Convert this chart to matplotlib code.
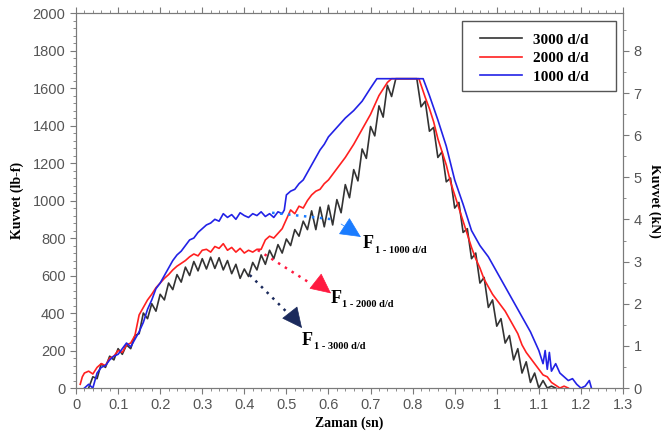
import numpy as np
import matplotlib
matplotlib.use('Agg')
import matplotlib.pyplot as plt
from matplotlib.patches import Rectangle
from matplotlib.ticker import MultipleLocator, FuncFormatter

# --- data (time in s, force in lb-f) ---
# 3000 d/d, sampled every 0.01 s starting at 0.03 s
black_t0, black_dt = 0.03, 0.01
black_f = [0, 60, 50, 130, 110, 170, 150, 210, 180, 230, 210, 280,          # 0.03-0.14
           290, 400, 370, 450, 410, 500, 470, 560, 525, 605, 565, 645,      # 0.15-0.26
           600, 675, 625, 690, 635, 698, 638, 695, 630, 680, 610, 660,      # 0.27-0.38
           585, 635, 595, 670, 630, 710, 660, 735, 690, 765, 720, 795,      # 0.39-0.50
           760, 845, 810, 890, 845, 945, 845, 965, 860, 975, 870, 1005,     # 0.51-0.62
           935, 1085, 1015, 1165, 1105, 1275, 1225, 1395, 1345, 1505, 1445, 1615,  # 0.63-0.74
           1555, 1650, 1650, 1650, 1650, 1650, 1650, 1500, 1530, 1370, 1390, 1230,  # 0.75-0.86
           1260, 1100, 1120, 960, 990, 830, 850, 690, 720, 560, 590, 430,   # 0.87-0.98
           470, 330, 370, 240, 280, 150, 210, 80, 140, 30, 80, 0,           # 0.99-1.10
           40, 0, 10, 0]                                                    # 1.11-1.14
black_t = np.round(black_t0 + black_dt * np.arange(len(black_f)), 3)

# 2000 d/d
red_t = [0.01, 0.015, 0.02, 0.03, 0.04, 0.05, 0.06, 0.07, 0.08, 0.09, 0.10, 0.11, 0.12,
         0.13, 0.14, 0.15, 0.16, 0.17, 0.18, 0.19, 0.20, 0.21, 0.22, 0.23, 0.24, 0.25,
         0.26, 0.27, 0.28, 0.29, 0.30, 0.31, 0.32, 0.33, 0.34, 0.35, 0.36, 0.37, 0.38,
         0.39, 0.40, 0.41, 0.42, 0.43, 0.44, 0.45, 0.46, 0.47, 0.48, 0.49, 0.50, 0.51,
         0.52, 0.53, 0.54, 0.55, 0.56, 0.57, 0.58, 0.59, 0.60, 0.62, 0.64, 0.66, 0.68,
         0.70, 0.72, 0.74, 0.75, 0.815, 0.83, 0.84, 0.85, 0.86, 0.87, 0.88, 0.89, 0.90,
         0.91, 0.92, 0.93, 0.94, 0.95, 0.96, 0.97, 0.98, 0.99, 1.00, 1.01, 1.02, 1.03,
         1.04, 1.05, 1.06, 1.07, 1.08, 1.09, 1.10, 1.11, 1.12, 1.13, 1.14, 1.15, 1.16, 1.17]
red_f = [20, 60, 80, 90, 75, 110, 130, 120, 160, 170, 200, 190, 230,
         240, 280, 390, 430, 470, 500, 535, 560, 585, 605, 630, 650, 665,
         680, 700, 715, 705, 735, 740, 725, 755, 745, 770, 735, 750, 725,
         745, 720, 735, 725, 740, 740, 790, 810, 800, 825, 850, 900, 950,
         930, 970, 960, 1000, 1030, 1050, 1060, 1090, 1110, 1170, 1230, 1300, 1380,
         1460, 1560, 1630, 1650, 1650, 1550, 1490, 1420, 1330, 1260, 1190, 1100, 1030,
         960, 890, 820, 750, 690, 640, 580, 540, 500, 470, 440, 410, 370,
         330, 290, 230, 190, 160, 130, 100, 70, 60, 30, 15, 0, 10, 0]

# 1000 d/d
blue_t = [0.02, 0.03, 0.04, 0.05, 0.06, 0.07, 0.08, 0.09, 0.10, 0.11, 0.12, 0.13,
          0.14, 0.15, 0.16, 0.17, 0.18, 0.19, 0.20, 0.21, 0.22, 0.23, 0.24, 0.25,
          0.26, 0.27, 0.28, 0.29, 0.30, 0.31, 0.32, 0.33, 0.34, 0.35, 0.36, 0.37,
          0.38, 0.39, 0.40, 0.41, 0.42, 0.43, 0.44, 0.45, 0.46, 0.47, 0.48, 0.49,
          0.495, 0.50, 0.51, 0.52, 0.53, 0.54, 0.55, 0.56, 0.57, 0.58, 0.59, 0.60,
          0.62, 0.64, 0.66, 0.68, 0.70, 0.715, 0.825, 0.84, 0.86, 0.88, 0.90, 0.92,
          0.94, 0.96, 0.98, 1.00, 1.02, 1.04, 1.06, 1.08, 1.10, 1.11, 1.115, 1.12,
          1.125, 1.13, 1.14, 1.15, 1.16, 1.17, 1.18, 1.19, 1.20, 1.21, 1.22, 1.225]
blue_f = [0, 20, 0, 80, 110, 120, 150, 170, 180, 210, 240, 220,
          260, 300, 350, 420, 470, 530, 560, 600, 640, 680, 710, 730,
          760, 790, 800, 830, 850, 870, 880, 900, 890, 930, 910, 925,
          900, 935, 920, 910, 930, 920, 940, 915, 930, 910, 940, 930,
          950, 1030, 1050, 1060, 1090, 1110, 1150, 1190, 1230, 1270, 1300, 1340,
          1390, 1440, 1480, 1530, 1600, 1650, 1650, 1560, 1430, 1290, 1110, 980,
          840, 760, 700, 620, 540, 460, 380, 300, 200, 130, 200, 100,
          190, 90, 130, 80, 60, 40, 50, 20, 0, 10, 40, 0]

series_labels = ['3000 d/d', '2000 d/d', '1000 d/d']
series_colors = ['#333333', '#ff2020', '#2222e6']

# dotted arrows: shaft start, shaft end, head base, head tip
arrow_start = [(0.413, 603), (0.432, 736), (0.466, 935)]
arrow_shaft_end = [(0.513, 378), (0.556, 560), (0.610, 900)]
arrow_head_base = [(0.516, 380), (0.572, 565), (0.630, 875)]
arrow_tip = [(0.537, 320), (0.606, 505), (0.677, 806)]
arrow_colors = ['#1b2a5c', '#ff1a40', '#1a7cff']
f_sub = ['1 - 3000 d/d', '1 - 2000 d/d', '1 - 1000 d/d']
f_label_pos = [(0.537, 256), (0.604, 480), (0.682, 773)]

LB_PER_KN = 224.809

fig = plt.figure(figsize=(6.61, 4.36), dpi=100)
ax = fig.add_axes([0.115, 0.110, 0.8275, 0.860])

for t, f, lab, c in zip([black_t, red_t, blue_t], [black_f, red_f, blue_f],
                        series_labels, series_colors):
    ax.plot(t, f, color=c, lw=1.2, label=lab)

for p0, p1, pb, pt, c in zip(arrow_start, arrow_shaft_end, arrow_head_base, arrow_tip, arrow_colors):
    ax.plot([p0[0], p1[0]], [p0[1], p1[1]], ls=(0, (1, 2.2)), color=c, lw=1.8)
    ax.annotate('', xy=pt, xytext=pb,
                arrowprops=dict(arrowstyle='-|>,head_length=1.35,head_width=0.65',
                                color=c, lw=0.5, shrinkA=0, shrinkB=0))

serif_bold = dict(family='Liberation Serif', weight='bold')
for sub, (x, y) in zip(f_sub, f_label_pos):
    ax.text(x, y, 'F', fontsize=13, va='center', ha='left', color='black', **serif_bold)
    ax.annotate(sub, xy=(x, y), xytext=(8.5, -5), textcoords='offset points',
                fontsize=7.5, va='center', ha='left', color='black', **serif_bold)

ax.set_xlim(0, 1.3)
ax.set_ylim(0, 2000)
ax.xaxis.set_major_locator(MultipleLocator(0.1))
ax.xaxis.set_minor_locator(MultipleLocator(0.02))
ax.yaxis.set_major_locator(MultipleLocator(200))
ax.yaxis.set_minor_locator(MultipleLocator(40))
ax.xaxis.set_major_formatter(FuncFormatter(lambda v, p: '%g' % round(v, 2)))

grey = '#7a7a7a'
for lbl in ax.get_xticklabels() + ax.get_yticklabels():
    lbl.set_fontfamily('Liberation Sans')
ax.tick_params(which='both', direction='out', colors=grey, labelcolor='#555555',
               labelsize=10.5, top=True)
ax.tick_params(which='major', length=4)
ax.tick_params(which='minor', length=2)
for s in ax.spines.values():
    s.set_color(grey)

ax2 = ax.twinx()
ax2.set_ylim(0, 2000 / LB_PER_KN)
ax2.yaxis.set_major_locator(MultipleLocator(1))
ax2.yaxis.set_minor_locator(MultipleLocator(0.5))
ax2.tick_params(which='both', direction='out', colors=grey, labelcolor='#555555',
                labelsize=10.5)
ax2.tick_params(which='major', length=4)
ax2.tick_params(which='minor', length=2)
for lbl in ax2.get_yticklabels():
    lbl.set_fontfamily('Liberation Sans')
for s in ax2.spines.values():
    s.set_color(grey)

label_font = dict(family='Liberation Serif', weight='bold', size=10)
ax.set_ylabel('Kuvvet (lb-f)', **label_font, labelpad=6)
ax.set_xlabel('Zaman (sn)', **label_font, labelpad=3)
ax2.set_ylabel('Kuvvet (kN)', **label_font, rotation=270, labelpad=14)

# legend: frameless entries plus a hand-placed box (original has wide margins)
leg = ax.legend(loc='upper left', bbox_to_anchor=(0.7386, 0.947),
                prop=dict(family='Liberation Serif', weight='bold', size=11),
                frameon=False, handlelength=2.75, handletextpad=0.75,
                labelspacing=0.32, borderpad=0, borderaxespad=0)
ax.add_patch(Rectangle((0.7057, 0.792), 0.2815, 0.1867, transform=ax.transAxes,
                       fill=True, facecolor='white', edgecolor='#555555', lw=1.0,
                       zorder=4.9))
leg.set_zorder(5)

fig.savefig('out.png', dpi=100)
